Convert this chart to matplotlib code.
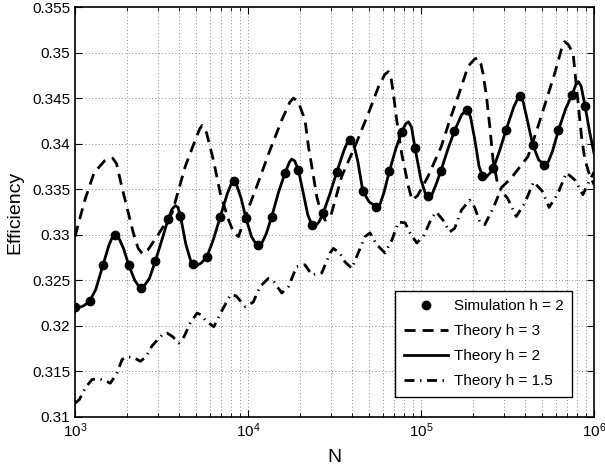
import numpy as np
import matplotlib
matplotlib.use("Agg")
import matplotlib.pyplot as plt
from matplotlib.ticker import FuncFormatter, LogLocator, NullFormatter

plt.rcParams['font.family'] = ['Liberation Sans', 'DejaVu Sans']
plt.rcParams['mathtext.fontset'] = 'custom'
plt.rcParams['mathtext.rm'] = 'Liberation Sans'

# ---------------------------------------------------
# Datos (log10 N, eficiencia)
# ---------------------------------------------------
sim_logN = [3.000, 3.085, 3.162, 3.233, 3.310, 3.383, 3.464, 3.538, 3.609, 3.680,
            3.763, 3.840, 3.917, 3.988, 4.060, 4.137, 4.214, 4.291, 4.368, 4.435,
            4.513, 4.590, 4.663, 4.740, 4.817, 4.888, 4.965, 5.042, 5.114, 5.193,
            5.264, 5.351, 5.418, 5.491, 5.572, 5.645, 5.713, 5.794, 5.871, 5.948]
sim_eff = [0.3221, 0.3227, 0.3267, 0.3300, 0.3267, 0.3242, 0.3271, 0.3317, 0.3321, 0.3268,
           0.3276, 0.3320, 0.3359, 0.3318, 0.3289, 0.3320, 0.3368, 0.3371, 0.3311, 0.3324,
           0.3369, 0.3404, 0.3348, 0.3331, 0.3370, 0.3413, 0.3395, 0.3342, 0.3370, 0.3414,
           0.3437, 0.3364, 0.3373, 0.3415, 0.3452, 0.3399, 0.3377, 0.3415, 0.3453, 0.3441]

h2_logN = [3.000, 3.020, 3.050, 3.085, 3.120, 3.162, 3.195, 3.215, 3.233, 3.252,
           3.280, 3.310, 3.345, 3.370, 3.383, 3.400, 3.430, 3.464, 3.500, 3.538,
           3.560, 3.580, 3.595, 3.609, 3.640, 3.672, 3.700, 3.730, 3.763, 3.800,
           3.840, 3.880, 3.905, 3.917, 3.935, 3.960, 3.988, 4.020, 4.045, 4.060,
           4.080, 4.105, 4.137, 4.175, 4.214, 4.240, 4.252, 4.270, 4.291, 4.320,
           4.345, 4.368, 4.385, 4.410, 4.435, 4.475, 4.513, 4.555, 4.578, 4.590,
           4.610, 4.635, 4.663, 4.700, 4.740, 4.760, 4.785, 4.817, 4.855, 4.888,
           4.912, 4.927, 4.945, 4.965, 5.000, 5.025, 5.042, 5.065, 5.090, 5.114,
           5.155, 5.193, 5.235, 5.264, 5.285, 5.310, 5.335, 5.355, 5.375, 5.400,
           5.418, 5.455, 5.491, 5.535, 5.560, 5.572, 5.590, 5.615, 5.645, 5.680,
           5.713, 5.735, 5.760, 5.794, 5.835, 5.871, 5.895, 5.910, 5.925, 5.948,
           5.975, 6.000]
h2_eff = [0.3221, 0.3220, 0.3222, 0.3227, 0.3240, 0.3267, 0.3288, 0.3297, 0.3300, 0.3297,
          0.3285, 0.3267, 0.3250, 0.3243, 0.3242, 0.3244, 0.3252, 0.3271, 0.3293, 0.3317,
          0.3328, 0.3332, 0.3330, 0.3321, 0.3290, 0.3269, 0.3266, 0.3269, 0.3276, 0.3295,
          0.3320, 0.3345, 0.3357, 0.3359, 0.3354, 0.3340, 0.3318, 0.3298, 0.3290, 0.3289,
          0.3291, 0.3301, 0.3320, 0.3346, 0.3368, 0.3380, 0.3383, 0.3381, 0.3371, 0.3345,
          0.3322, 0.3311, 0.3309, 0.3314, 0.3324, 0.3346, 0.3369, 0.3393, 0.3403, 0.3405,
          0.3400, 0.3380, 0.3348, 0.3336, 0.3331, 0.3332, 0.3346, 0.3370, 0.3395, 0.3413,
          0.3422, 0.3424, 0.3418, 0.3395, 0.3360, 0.3345, 0.3342, 0.3345, 0.3357, 0.3370,
          0.3394, 0.3414, 0.3432, 0.3437, 0.3430, 0.3405, 0.3375, 0.3364, 0.3363, 0.3368,
          0.3373, 0.3393, 0.3415, 0.3440, 0.3450, 0.3452, 0.3446, 0.3425, 0.3399, 0.3382,
          0.3377, 0.3380, 0.3392, 0.3415, 0.3438, 0.3453, 0.3465, 0.3468, 0.3463, 0.3441,
          0.3412, 0.3389]

h3_logN = [3.000, 3.025, 3.060, 3.110, 3.170, 3.200, 3.218, 3.240, 3.270, 3.308,
           3.337, 3.365, 3.390, 3.420, 3.470, 3.520, 3.561, 3.637, 3.695, 3.720,
           3.734, 3.760, 3.801, 3.840, 3.888, 3.917, 3.945, 3.992, 4.050, 4.127,
           4.195, 4.240, 4.262, 4.290, 4.329, 4.349, 4.378, 4.397, 4.420, 4.445,
           4.480, 4.541, 4.618, 4.695, 4.753, 4.790, 4.811, 4.825, 4.840, 4.859,
           4.888, 4.927, 4.948, 4.980, 5.040, 5.117, 5.166, 5.214, 5.272, 5.310,
           5.329, 5.345, 5.358, 5.378, 5.397, 5.416, 5.440, 5.460, 5.520, 5.618,
           5.676, 5.724, 5.772, 5.810, 5.830, 5.850, 5.879, 5.888, 5.908, 5.927,
           5.947, 5.975, 6.000]
h3_eff = [0.3298, 0.3316, 0.3340, 0.3368, 0.3381, 0.3384, 0.3384, 0.3378, 0.3353, 0.3324,
          0.3302, 0.3285, 0.3279, 0.3283, 0.3297, 0.3312, 0.3324, 0.3375, 0.3404, 0.3416,
          0.3420, 0.3412, 0.3381, 0.3345, 0.3316, 0.3302, 0.3298, 0.3324, 0.3353, 0.3393,
          0.3426, 0.3445, 0.3450, 0.3446, 0.3426, 0.3397, 0.3364, 0.3342, 0.3325, 0.3316,
          0.3322, 0.3364, 0.3397, 0.3433, 0.3462, 0.3476, 0.3479, 0.3474, 0.3455, 0.3426,
          0.3389, 0.3353, 0.3338, 0.3343, 0.3364, 0.3397, 0.3426, 0.3452, 0.3485, 0.3493,
          0.3494, 0.3488, 0.3477, 0.3452, 0.3419, 0.3382, 0.3358, 0.3351, 0.3362, 0.3386,
          0.3419, 0.3448, 0.3477, 0.3503, 0.3512, 0.3509, 0.3499, 0.3481, 0.3444, 0.3408,
          0.3382, 0.3365, 0.3355]

h15_logN = [3.000, 3.025, 3.060, 3.098, 3.137, 3.170, 3.204, 3.240, 3.272, 3.300,
            3.340, 3.378, 3.410, 3.445, 3.503, 3.532, 3.565, 3.599, 3.630, 3.666,
            3.705, 3.730, 3.753, 3.802, 3.850, 3.898, 3.930, 3.985, 4.030, 4.069,
            4.117, 4.150, 4.195, 4.233, 4.281, 4.329, 4.368, 4.426, 4.474, 4.493,
            4.530, 4.561, 4.600, 4.628, 4.676, 4.705, 4.744, 4.792, 4.831, 4.869,
            4.908, 4.936, 4.975, 5.013, 5.060, 5.088, 5.127, 5.166, 5.194, 5.233,
            5.281, 5.310, 5.339, 5.368, 5.416, 5.460, 5.500, 5.550, 5.600, 5.650,
            5.700, 5.740, 5.790, 5.840, 5.890, 5.935, 5.970, 6.000]
h15_eff = [0.3115, 0.3119, 0.3132, 0.3141, 0.3142, 0.3140, 0.3137, 0.3147, 0.3163, 0.3166,
           0.3165, 0.3161, 0.3166, 0.3178, 0.3190, 0.3192, 0.3188, 0.3181, 0.3188, 0.3203,
           0.3214, 0.3212, 0.3206, 0.3199, 0.3217, 0.3234, 0.3233, 0.3221, 0.3226, 0.3243,
           0.3252, 0.3248, 0.3236, 0.3243, 0.3265, 0.3267, 0.3256, 0.3258, 0.3280, 0.3285,
           0.3280, 0.3270, 0.3263, 0.3276, 0.3298, 0.3302, 0.3289, 0.3280, 0.3294, 0.3314,
           0.3313, 0.3302, 0.3291, 0.3298, 0.3318, 0.3325, 0.3316, 0.3303, 0.3307, 0.3327,
           0.3338, 0.3330, 0.3314, 0.3311, 0.3329, 0.3349, 0.3340, 0.3320, 0.3335, 0.3358,
           0.3348, 0.3330, 0.3345, 0.3368, 0.3360, 0.3344, 0.3358, 0.3369]

# ---------------------------------------------------
# Figura
# ---------------------------------------------------
fig = plt.figure(figsize=(6.05, 4.70), dpi=100)
ax = fig.add_axes([0.124, 0.113, 0.858, 0.872])

N = lambda lg: 10 ** np.array(lg)

ax.plot(N(h3_logN), h3_eff, color="k", lw=2, linestyle=(0, (4, 2.5)), label="Theory h = 3", zorder=3)
ax.plot(N(h2_logN), h2_eff, color="k", lw=2, linestyle="-", label="Theory h = 2", zorder=4)
ax.plot(N(h15_logN), h15_eff, color="k", lw=2, linestyle=(0, (3.6, 2, 0.5, 2)), label="Theory h = 1.5", zorder=3)
ax.plot(N(sim_logN), sim_eff, "o", color="k", markersize=6, label="Simulation h = 2", zorder=5)

ax.set_xscale("log")
ax.set_xlim(1e3, 1e6)
ax.set_ylim(0.31, 0.355)
ax.set_yticks(np.arange(0.31, 0.3551, 0.005))
ax.yaxis.set_major_formatter(FuncFormatter(lambda v, p: "%g" % round(v, 3)))
ax.xaxis.set_minor_locator(LogLocator(base=10, subs=np.arange(2, 10)))
ax.xaxis.set_minor_formatter(NullFormatter())

ax.grid(True, which="major", linestyle=(0, (1, 3)), color="0.4", lw=0.6)
ax.grid(True, which="minor", axis="x", linestyle=(0, (1, 3)), color="0.4", lw=0.6)
ax.tick_params(which="both", direction="in", top=True, right=True, labelsize=11)
ax.tick_params(which="major", length=5)
ax.tick_params(which="minor", length=3)
for s in ax.spines.values():
    s.set_linewidth(1.2)

ax.set_xlabel("N", fontsize=14, labelpad=6)
ax.set_ylabel("Efficiency", fontsize=14, labelpad=6)

h, l = ax.get_legend_handles_labels()
order = [3, 0, 1, 2]
leg = ax.legend([h[i] for i in order], [l[i] for i in order], loc="lower right",
                bbox_to_anchor=(0.958, 0.049), fontsize=11, handlelength=2.9,
                handletextpad=0.4, fancybox=False, framealpha=1, edgecolor="k",
                borderaxespad=0, labelspacing=0.72, borderpad=0.55)
leg.get_frame().set_linewidth(1.0)

plt.savefig("out.png", dpi=100)
